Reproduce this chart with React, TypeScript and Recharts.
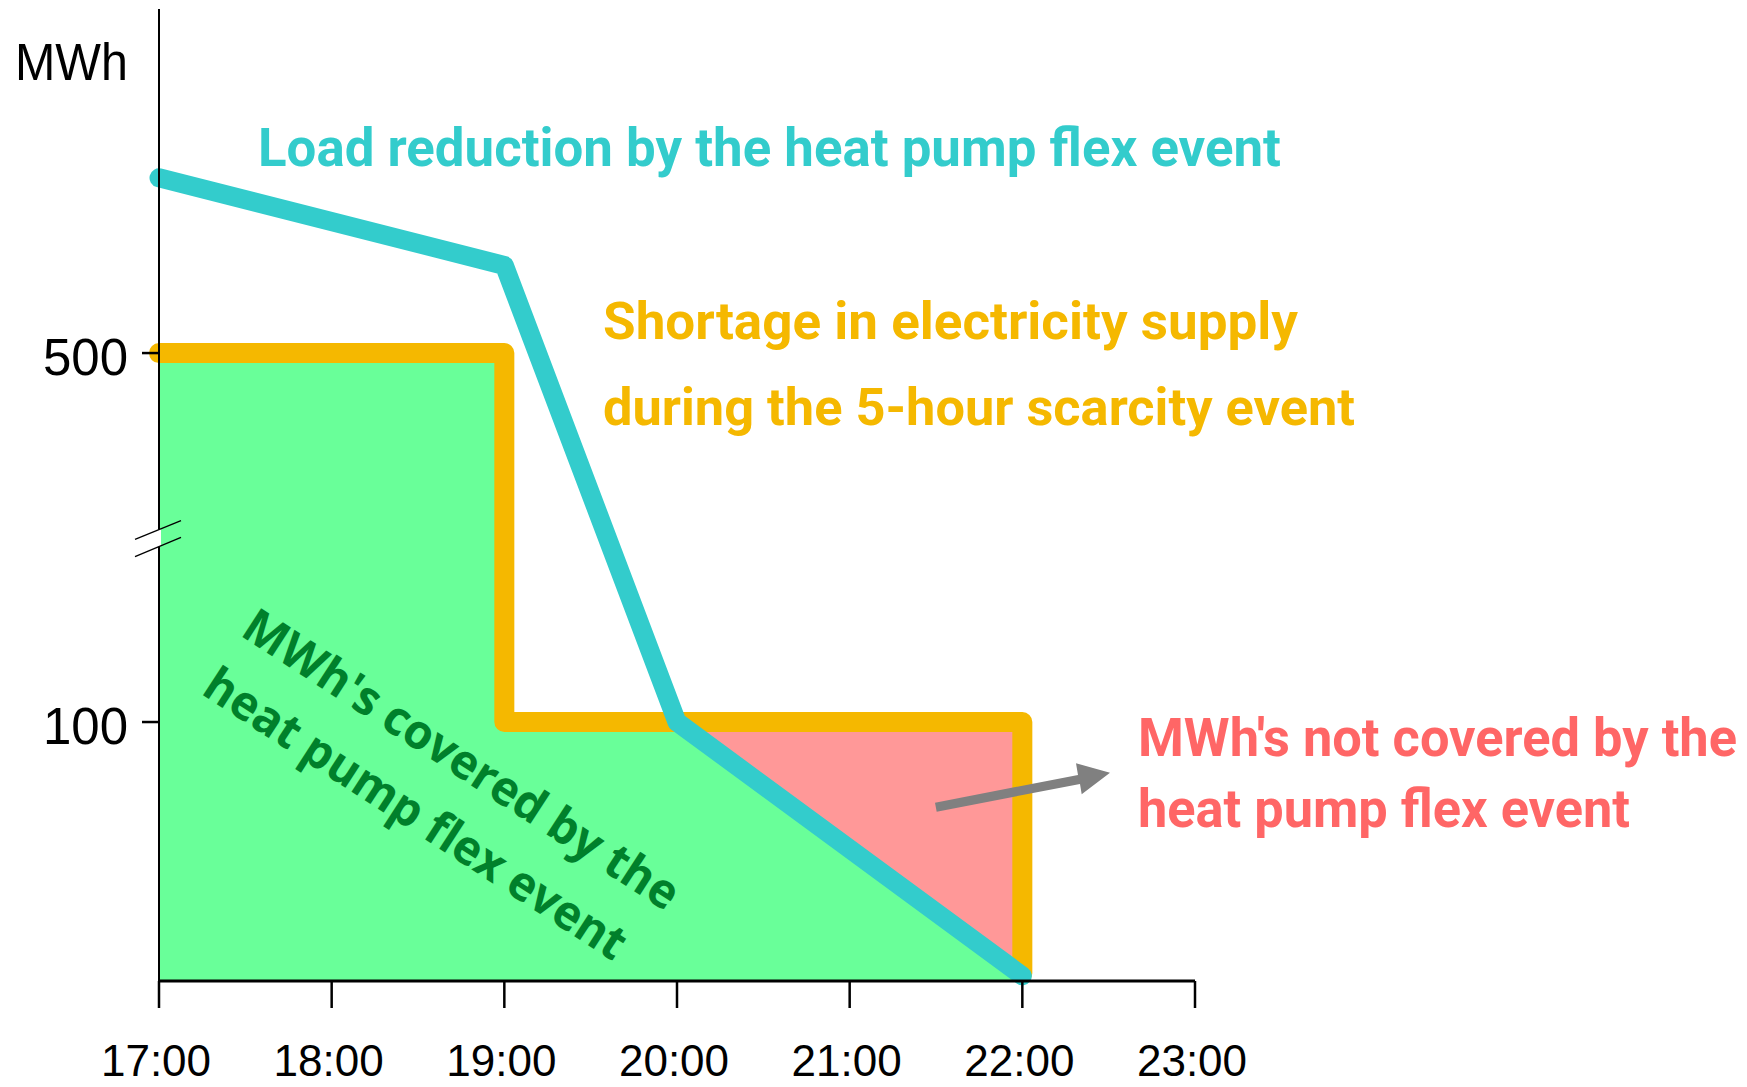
import React from 'react';
import { ComposedChart, Line, Area, XAxis, YAxis } from 'recharts';

// ---- data ----
const HOURS = [17, 18, 19, 20, 21, 22, 23];
const HOUR_LABELS = ['17:00', '18:00', '19:00', '20:00', '21:00', '22:00', '23:00'];
const Y_TICKS = [100, 500];
const Y_MAX = 873;

// Shortage in electricity supply (step line)
const SUPPLY_HOURS = [17, 19, 19, 22, 22];
const SUPPLY_MWH = [500, 500, 100, 100, 3];

// Load reduction by the heat pump flex event
const LOAD_HOURS = [17, 19, 20, 22];
const LOAD_MWH = [690, 595, 100, 2];

// MWh's covered by the heat pump flex event
const COVERED_HOURS = [17, 19, 19, 20, 22];
const COVERED_MWH = [500, 500, 100, 100, 2];

// MWh's not covered by the heat pump flex event
const NOT_COVERED_HOURS = [20, 22];
const NOT_COVERED_LOW = [100, 2];
const NOT_COVERED_HIGH = [100, 100];

const supplyData = SUPPLY_HOURS.map((h, i) => ({ hour: h, mwh: SUPPLY_MWH[i] }));
const loadData = LOAD_HOURS.map((h, i) => ({ hour: h, mwh: LOAD_MWH[i] }));
const coveredData = COVERED_HOURS.map((h, i) => ({ hour: h, mwh: COVERED_MWH[i] }));
const notCoveredData = NOT_COVERED_HOURS.map((h, i) => ({
  hour: h,
  range: [NOT_COVERED_LOW[i], NOT_COVERED_HIGH[i]],
}));

// ---- broken-axis scale (steeper below 100 MWh) ----
function makeBrokenScale(): any {
  let dom = [0, 1];
  let rng = [0, 1];
  const w = (v: number) => (v <= 100 ? v * 2.59 : 259 + (v - 100) * 0.9225);
  const winv = (u: number) => (u <= 259 ? u / 2.59 : 100 + (u - 259) / 0.9225);
  const scale: any = function (v: any) {
    const a = w(dom[0]);
    const b = w(dom[1]);
    return rng[0] + ((w(Number(v)) - a) / (b - a)) * (rng[1] - rng[0]);
  };
  scale.domain = function (d?: any) {
    if (!arguments.length) return dom.slice();
    dom = Array.from(d as any[]).map(Number);
    return scale;
  };
  scale.range = function (r?: any) {
    if (!arguments.length) return rng.slice();
    rng = Array.from(r as any[]).map(Number);
    return scale;
  };
  scale.copy = function () {
    return makeBrokenScale().domain(dom).range(rng);
  };
  scale.ticks = function () {
    return Y_TICKS.slice();
  };
  scale.tickFormat = function () {
    return (d: any) => String(d);
  };
  scale.invert = function (px: number) {
    const a = w(dom[0]);
    const b = w(dom[1]);
    const u = a + ((px - rng[0]) / (rng[1] - rng[0])) * (b - a);
    return winv(u);
  };
  scale.nice = function () {
    return scale;
  };
  return scale;
}

const yScale = makeBrokenScale();

const W = 1747;
const H = 1087;

export default function App() {
  return (
    <div style={{ position: 'absolute', left: 0, top: 0, width: W, height: H, background: '#fff' }}>
      <ComposedChart
        width={W}
        height={H}
        margin={{ top: 9, right: 552, bottom: 0, left: 0 }}
      >
        <XAxis
          dataKey="hour"
          type="number"
          domain={[17, 23]}
          ticks={HOURS}
          interval={0}
          allowDuplicatedCategory={false}
          tickFormatter={(v: number) => HOUR_LABELS[HOURS.indexOf(v)]}
          height={106}
          tickSize={27}
          tickMargin={37}
          axisLine={{ stroke: '#000', strokeWidth: 3 }}
          tickLine={{ stroke: '#000', strokeWidth: 2.5 }}
          tick={{ fill: '#000', fontSize: 44, fontFamily: 'Liberation Sans, Arial, sans-serif', dx: -3 }}
        />
        <YAxis
          type="number"
          dataKey="mwh"
          domain={[0, Y_MAX]}
          scale={yScale}
          ticks={Y_TICKS}
          interval={0}
          width={159}
          tickSize={17}
          tickMargin={14}
          axisLine={{ stroke: '#000', strokeWidth: 2 }}
          tickLine={{ stroke: '#000', strokeWidth: 2.5 }}
          tick={{ fill: '#000', fontSize: 51, fontFamily: 'Liberation Sans, Arial, sans-serif', dy: 4 }}
        />
        <Area
          data={coveredData}
          dataKey="mwh"
          type="linear"
          fill="#69FF99"
          fillOpacity={1}
          stroke="none"
          isAnimationActive={false}
          dot={false}
          activeDot={false}
        />
        <Area
          data={notCoveredData}
          dataKey="range"
          type="linear"
          fill="#FF9898"
          fillOpacity={1}
          stroke="none"
          isAnimationActive={false}
          dot={false}
          activeDot={false}
        />
        <Line
          data={supplyData}
          dataKey="mwh"
          type="linear"
          stroke="#F5B800"
          strokeWidth={20}
          strokeLinecap="round"
          strokeLinejoin="round"
          dot={false}
          activeDot={false}
          isAnimationActive={false}
        />
        <Line
          data={loadData}
          dataKey="mwh"
          type="linear"
          stroke="#33CCCC"
          strokeWidth={19}
          strokeLinecap="round"
          strokeLinejoin="round"
          dot={false}
          activeDot={false}
          isAnimationActive={false}
        />
      </ComposedChart>
      <svg
        width={W}
        height={H}
        style={{ position: 'absolute', left: 0, top: 0, pointerEvents: 'none' }}
      >
        {/* axis break marks */}
        <polygon points="157,530 161,528.7 161,546 157,547.4" fill="#ffffff" />
        <line x1={135} y1={539.3} x2={181} y2={520.7} stroke="#000" strokeWidth={1.3} />
        <line x1={135} y1={556.7} x2={181} y2={537.3} stroke="#000" strokeWidth={1.3} />

        {/* axis unit */}
        <text x={15} y={80} fontSize={51} fontFamily="Liberation Sans, Arial, sans-serif" fill="#000" textLength={113} lengthAdjust="spacingAndGlyphs">
          MWh
        </text>

        {/* load reduction */}
        <text x={258} y={166} fontSize={53} fontFamily="Roboto, sans-serif" fontWeight={700} fill="#33CCCC" textLength={1023} lengthAdjust="spacingAndGlyphs">
          Load reduction by the heat pump flex event
        </text>

        {/* shortage */}
        <text x={603} y={339} fontSize={52} fontFamily="Roboto, sans-serif" fontWeight={700} fill="#F5B800" textLength={695} lengthAdjust="spacingAndGlyphs">
          Shortage in electricity supply
        </text>
        <text x={603} y={425} fontSize={52} fontFamily="Roboto, sans-serif" fontWeight={700} fill="#F5B800" textLength={752} lengthAdjust="spacingAndGlyphs">
          during the 5-hour scarcity event
        </text>

        {/* not covered */}
        <text x={1138} y={756} fontSize={53} fontFamily="Roboto, sans-serif" fontWeight={700} fill="#FF6666" textLength={599} lengthAdjust="spacingAndGlyphs">
          MWh's not covered by the
        </text>
        <text x={1138} y={827} fontSize={53} fontFamily="Roboto, sans-serif" fontWeight={700} fill="#FF6666" textLength={492} lengthAdjust="spacingAndGlyphs">
          heat pump flex event
        </text>

        {/* covered (rotated) */}
        <text transform="translate(452.5,773.3) rotate(33)" textAnchor="middle" fontSize={48} fontFamily="Open Sans, sans-serif" fontWeight={700} fill="#00802B" textLength={509} lengthAdjust="spacingAndGlyphs">
          MWh's covered by the
        </text>
        <text transform="translate(406.7,827.5) rotate(33)" textAnchor="middle" fontSize={48} fontFamily="Open Sans, sans-serif" fontWeight={700} fill="#00802B" textLength={493} lengthAdjust="spacingAndGlyphs">
          heat pump flex event
        </text>

        {/* arrow */}
        <polygon
          points="935,802.7 1078,775 1076,763.3 1110,772.7 1081.7,794.3 1080,784 936.7,811.7"
          fill="#808080"
        />
      </svg>
    </div>
  );
}
